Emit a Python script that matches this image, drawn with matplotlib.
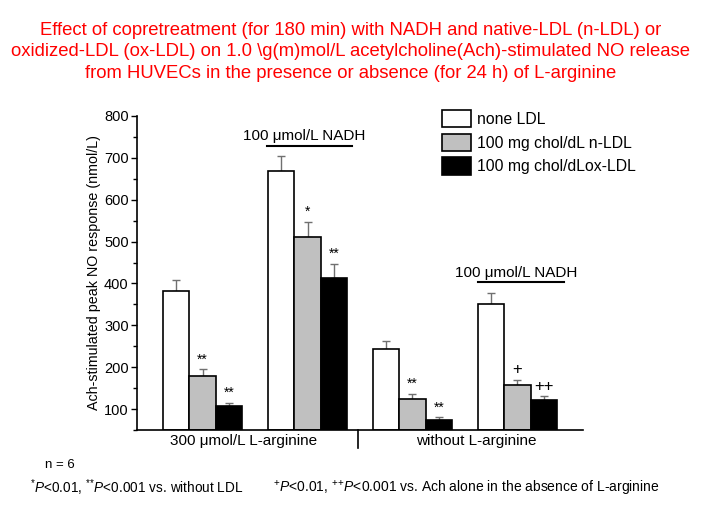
import numpy as np
import matplotlib
matplotlib.use("Agg")
import matplotlib.pyplot as plt
from matplotlib.patches import Patch

plt.rcParams['font.family'] = ['Liberation Sans', 'DejaVu Sans']
plt.rcParams['mathtext.fontset'] = 'custom'
plt.rcParams['mathtext.rm'] = 'Liberation Sans'
plt.rcParams['mathtext.it'] = 'Liberation Sans:italic'

# data (nmol/L)
series = ['none LDL', '100 mg chol/dL n-LDL', '100 mg chol/dLox-LDL']
colors = ['white', '#c0c0c0', 'black']
# four groups: L-arg, L-arg+NADH, no L-arg, no L-arg+NADH
values = [
    [382, 668, 244, 351],   # none LDL
    [178, 511, 125, 158],   # n-LDL
    [108, 414, 74, 121],    # ox-LDL
]
errors = [
    [26, 37, 19, 26],
    [17, 36, 11, 11],
    [7, 33, 6, 9],
]
marks = [
    ['', '', '', ''],
    ['**', '*', '**', '+'],
    ['**', '**', '**', '++'],
]
group_labels = ['300 \u03bcmol/L L-arginine', 'without L-arginine']
nadh_label = '100 \u03bcmol/L NADH'

group_x = np.array([0, 4, 8, 12])
width = 1.0

fig = plt.figure(figsize=(7.01, 5.19), dpi=100)
ax = fig.add_axes([0.1954, 0.1715, 0.6363, 0.605])

for i in range(3):
    x = group_x + i * width
    v = np.array(values[i])
    e = np.array(errors[i])
    ax.bar(x, v - 50, bottom=50, width=width, color=colors[i],
           edgecolor='black', linewidth=1.2, zorder=2)
    ax.errorbar(x, v, yerr=[np.zeros_like(e), e], fmt='none',
                ecolor='#707070', elinewidth=1.0, capsize=3.2, capthick=1.0, zorder=1)
    for xi, vi, ei, m in zip(x, v, e, marks[i]):
        if m:
            ax.annotate(m, (xi, vi + ei), xytext=(0, 2), textcoords='offset points',
                        ha='center', va='bottom', fontsize=12 if '+' in m else 10)

ax.set_xlim(-1.5, 15.5)
ax.set_ylim(50, 800)
ax.set_yticks(np.arange(100, 801, 100))
ax.set_yticks(np.arange(50, 801, 50), minor=True)
ax.tick_params(axis='y', which='major', direction='out', length=4, width=1, labelsize=10.5, pad=2)
ax.tick_params(axis='y', which='minor', direction='out', length=3, width=1)
ax.set_xticks([])
for s in ['top', 'right']:
    ax.spines[s].set_visible(False)
ax.spines['left'].set_linewidth(1.2)
ax.spines['bottom'].set_linewidth(1.2)
ax.set_ylabel('Ach-stimulated peak NO response (nmol/L)', fontsize=10.3, labelpad=2)

# NADH brackets
for x0, x1, yl in [(3.46, 6.69, 729), (11.5, 14.78, 403)]:
    ax.plot([x0, x1], [yl, yl], color='black', lw=1.5, clip_on=False)
    ax.text((x0 + x1) / 2 - 0.2, yl + 6, nadh_label, ha='center', va='bottom', fontsize=11)

# group labels and separator
ax.plot([6.93, 6.93], [50, 8], color='black', lw=1.2, clip_on=False)
ax.text(2.55, 40, group_labels[0], ha='center', va='top', fontsize=11)
ax.text(11.43, 40, group_labels[1], ha='center', va='top', fontsize=11)

handles = [Patch(facecolor=c, edgecolor='black', linewidth=1.2) for c in colors]
fig.legend(handles, series, loc='upper left', bbox_to_anchor=(442 / 701, 1 - 110 / 519),
           frameon=False, fontsize=11.3, handlelength=1.85, handleheight=1.33,
           labelspacing=0.4, handletextpad=0.4, borderpad=0, borderaxespad=0)

fig.text(0.5, 1 - 52 / 519,
         'Effect of copretreatment (for 180 min) with NADH and native-LDL (n-LDL) or\n'
         'oxidized-LDL (ox-LDL) on 1.0 \\g(m)mol/L acetylcholine(Ach)-stimulated NO release\n'
         'from HUVECs in the presence or absence (for 24 h) of L-arginine',
         ha='center', va='center', color='red', fontsize=13.3, linespacing=1.32)

fig.text(45 / 701, 1 - 465 / 519, 'n = 6', fontsize=9.5, va='center')
fig.text(30 / 701, 1 - 488 / 519, r'$^{*}\mathit{P}$<0.01, $^{*}$$^{*}$$\mathit{P}$<0.001 vs. without LDL',
         fontsize=9.8, va='center')
fig.text(273 / 701, 1 - 488 / 519,
         r'$^{+}\mathit{P}$<0.01, $^{+}$$^{+}$$\mathit{P}$<0.001 vs. Ach alone in the absence of L-arginine',
         fontsize=10, va='center')

fig.savefig('out.png', dpi=100)
